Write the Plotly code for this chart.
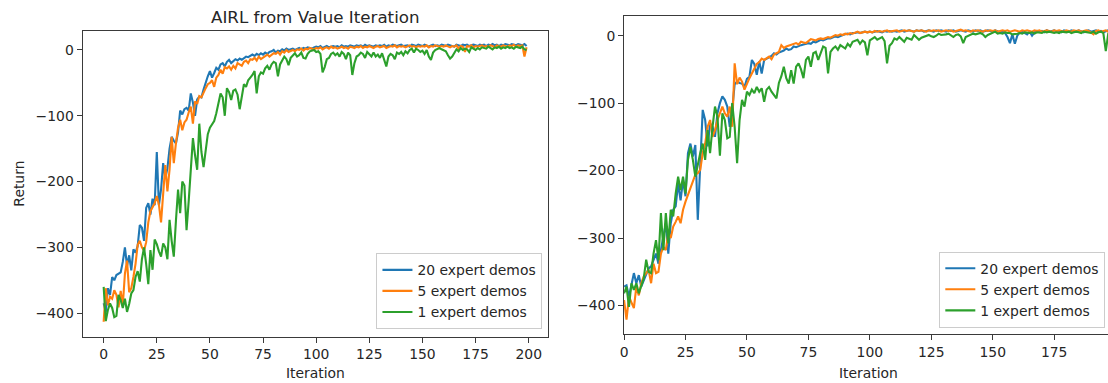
import plotly.graph_objects as go

W, H = 1108, 383

iterations = list(range(200))

# ---- Left panel: AIRL from Value Iteration ----
left_20 = [
    -385, -398, -362, -372, -345, -350, -342, -340, -338, -322,
    -300, -328, -312, -335, -303, -308, -298, -266, -270, -290,
    -240, -233, -250, -226, -236, -155, -236, -212, -172, -195,
    -180, -150, -132, -138, -142, -125, -92, -98, -90, -88,
    -92, -66, -80, -100, -75, -71, -72, -60, -48, -40,
    -32, -42, -35, -27, -30, -22, -20, -25, -18, -15,
    -20, -17, -14, -16, -13, -15, -12, -10, -11, -9,
    -7, -9, -6, -8, -5, -7, -4, -6, -3, -2,
    0, -4, -1, -2, 1, -1, 2, 0, 1, 2,
    0, 2, 3, 1, 3, 2, 4, 3, 2, 4,
    5, 4, 6, 3, 5, 6, 4, 5, 6, 5,
    6, 4, 7, 5, 6, 5, 7, 6, 5, 7,
    6, 7, 5, 8, 6, 7, 6, 5, 7, 6,
    7, 6, 8, 5, 7, 6, 8, 7, 6, 7,
    8, 6, 7, 7, 5, 8, 7, 6, 8, 7,
    6, 8, 7, 5, 7, 8, 6, 7, 6, 8,
    7, 6, 8, 7, 6, 5, 8, 7, 6, 8,
    7, 8, 6, 7, 8, 7, 6, 8, 7, 8,
    6, 8, 7, 9, 7, 8, 6, 8, 7, 9,
    8, 7, 9, 8, 7, 9, 8, 7, 9, 6,
]
left_5 = [
    -413, -362, -388, -375, -378, -365, -372, -391, -366, -388,
    -340, -320, -368, -362, -345, -325, -296, -290, -300, -305,
    -292, -262, -245, -238, -233, -222, -235, -262, -213, -175,
    -215, -182, -132, -172, -142, -118, -106, -122, -110, -106,
    -95, -86, -112, -78, -82, -70, -72, -64, -58, -52,
    -50, -46, -56, -42, -38, -30, -36, -26, -28, -25,
    -30, -24, -28, -20, -22, -24, -18, -16, -20, -14,
    -15, -12, -16, -10, -14, -12, -9, -7, -10, -8,
    -5, -6, -3, -7, -2, -4, 0, -3, -1, 0,
    -2, 1, 0, 2, -1, 2, 1, 3, 2, 1,
    3, 2, 4, 1, 3, 4, 2, 5, 3, 4,
    2, 4, 5, 3, 4, 2, 5, 4, 3, 5,
    4, 6, 3, 5, 4, 6, 5, 3, 5, 6,
    4, 5, 6, 3, 5, 6, 5, 7, 4, 6,
    5, 6, 4, 6, 7, 5, 6, 4, 6, 5,
    6, 5, 7, 4, 6, 5, 7, 6, 5, 6,
    5, 7, 6, 4, 6, 5, 7, 2, 6, 5,
    -3, 6, 5, 7, 4, 6, 5, 6, 7, 5,
    6, 5, 7, 6, 4, 7, 6, 5, 7, 6,
    5, 7, 6, 8, 5, 7, 6, 7, -10, 4,
]
left_1 = [
    -360, -412, -395, -385, -392, -406, -404, -372, -380, -392,
    -378, -398, -386, -370, -365, -345, -336, -352, -318, -300,
    -325, -356, -304, -334, -288, -295, -306, -314, -294, -300,
    -318, -258, -290, -314, -260, -212, -248, -200, -206, -274,
    -230, -180, -134, -160, -182, -112, -155, -178, -150, -128,
    -118, -112, -108, -96, -78, -66, -72, -100, -58, -64,
    -76, -62, -60, -68, -90, -70, -52, -56, -46, -42,
    -38, -32, -66, -40, -34, -36, -28, -24, -30, -22,
    -18, -20, -40, -22, -15, -10, -14, -23, -12, -8,
    -5, -10, -8, -4, -12, -13, -6, -2, -1, 0,
    -3, -2, -6, -34, -26, -14, -12, -6, -4, -8,
    -5, -10, -3, -6, -14, -4, -8, -38, -20, -10,
    -8, -4, -6, -12, -3, -6, -10, -4, -10, -7,
    -12, -5, -14, -25, -10, -6, -8, -14, -4, -6,
    -3, -8, -2, -5, 0, 2, -4, 2, 0, -3,
    -1, -6, 0, -10, -15, -4, 0, 2, 3, 1,
    0, -2, -8, -13, -10, -4, 1, -2, 3, 0,
    2, 1, -3, 4, 2, 0, 3, 1, 4, 3,
    2, 5, 3, 1, 4, 3, 5, 2, 4, 3,
    5, 3, 4, 2, 5, 4, 3, 5, 1, 0,
]

# ---- Right panel ----
right_20 = [
    -372, -370, -387, -367, -352, -367, -355, -372, -362, -352,
    -345, -342, -333, -323, -338, -318, -298, -278, -323, -278,
    -258, -253, -219, -244, -214, -238, -174, -160, -179, -162,
    -273, -199, -110, -125, -164, -130, -135, -150, -115, -100,
    -90, -95, -105, -135, -110, -72, -68, -70, -71, -76,
    -64, -61, -36, -42, -58, -38, -56, -36, -34, -32,
    -30, -26, -28, -25, -24, -22, -19, -21, -20, -16,
    -17, -15, -14, -13, -12, -11, -12, -9, -10, -8,
    -6, -7, -5, -4, -4, -2, -1, -2, 0, 1,
    2, 3, 2, 4, 4, 5, 4, 5, 6, 5,
    6, 5, 6, 7, 6, 5, 7, 6, 7, 6,
    7, 6, 7, 8, 6, 7, 8, 7, 6, 8,
    7, 8, 6, 7, 8, 7, 6, 8, 7, 8,
    7, 6, 8, 7, 8, 6, 7, 8, 7, 6,
    8, 7, 6, 8, 7, 8, 6, 7, 8, 7,
    6, 8, 7, 5, 6, 4, -2, -11, 2, -12,
    0, 5, 6, 4, 2, 6, 0, 5, 7, 6,
    7, 5, 8, 6, 7, 8, 6, 7, 5, 8,
    7, 6, 8, 7, 6, 8, 7, 5, 7, 8,
    6, 7, 8, 6, 7, 5, 7, 8, 6, 7,
]
right_5 = [
    -392, -421, -387, -397, -404, -372, -385, -367, -357, -352,
    -347, -367, -338, -352, -350, -323, -313, -318, -293, -300,
    -283, -276, -268, -278, -258, -246, -236, -226, -214, -206,
    -204, -199, -174, -160, -135, -125, -150, -140, -125, -115,
    -105, -115, -120, -105, -135, -41, -72, -62, -68, -80,
    -70, -63, -56, -50, -42, -39, -34, -36, -33, -31,
    -35, -28, -26, -24, -14, -18, -16, -15, -14, -12,
    -11, -13, -9, -10, -11, -8, -5, -6, -7, -5,
    -4, -5, -3, -2, -3, -1, 1, 0, 2, 1,
    3, 2, 4, 3, 5, 6, 4, 5, 6, 5,
    6, 5, 7, 6, 7, 6, 7, 8, 6, 7,
    7, 8, 6, 7, 8, 7, 8, 7, 6, 8,
    7, 8, 7, 6, 8, 7, 8, 7, 8, 6,
    7, 8, 7, 8, 6, 7, 8, 9, 7, 8,
    7, 6, 8, 7, 8, 7, 6, 8, 7, 8,
    7, 8, 6, 7, 8, 7, 8, 6, 7, 8,
    7, 6, 8, 7, 8, 7, 6, 8, 7, 8,
    6, 7, 8, 7, 6, 8, 7, 8, 7, 6,
    8, 7, 6, 8, 7, 8, 6, 7, 8, 7,
    5, 2, 7, 8, 6, 7, 8, 6, 7, 8,
]
right_1 = [
    -382, -372, -402, -367, -377, -367, -382, -372, -360, -332,
    -350, -352, -323, -303, -333, -263, -318, -263, -308, -258,
    -268, -234, -209, -229, -209, -234, -184, -165, -184, -209,
    -189, -174, -160, -184, -140, -174, -135, -105, -120, -178,
    -115, -125, -152, -150, -100, -135, -189, -125, -95, -105,
    -83, -88, -80, -85, -76, -83, -78, -98, -80, -76,
    -83, -88, -93, -70, -60, -46, -63, -71, -51, -71,
    -46, -41, -50, -63, -36, -31, -46, -26, -24, -36,
    -26, -16, -18, -56, -24, -19, -16, -21, -14, -16,
    -19, -12, -16, -9, -7, -6, -12, -7, -10, -29,
    -7, -5, -2, -6, -4, -2, -8, -41, -15, -11,
    -4, -6, -2, -5, -9, -3, -4, -6, 1, -2,
    -6, -3, -2, 0, 1, -1, -2, 0, 3, 1,
    1, 2, 3, 0, -2, 1, 2, -1, -11, -2,
    0, 1, 3, 2, 3, 4, 2, -2, 1, 3,
    4, 6, 3, 4, 3, 5, 4, 4, 2, 2,
    3, 4, 3, 5, 4, 4, 5, 3, 5, 5,
    4, 6, 5, 6, 5, 4, 5, 4, 6, 5,
    5, 6, 4, 5, 6, 5, 4, 6, 5, 5,
    4, 6, 3, 5, 6, 4, -23, 3, 5, 4,
]

series_names = ["20 expert demos", "5 expert demos", "1 expert demos"]
series_colors = ["#1f77b4", "#ff7f0e", "#2ca02c"]

left_xticks = [0, 25, 50, 75, 100, 125, 150, 175, 200]
right_xticks = [0, 25, 50, 75, 100, 125, 150, 175]
y_ticks = [-400, -300, -200, -100, 0]
y_ticktext = ["\u2212400", "\u2212300", "\u2212200", "\u2212100", "0"]

title_text = "AIRL from Value Iteration"
xlabel_text = "Iteration"
ylabel_text = "Return"

FONT = "DejaVu Sans"
TXT = "#262626"
AX = "#3a3a3a"
FS = 13.9

fig = go.Figure()

for name, col, ys in zip(series_names, series_colors, [left_20, left_5, left_1]):
    fig.add_trace(go.Scatter(x=iterations, y=ys, mode="lines", name=name,
                             line=dict(color=col, width=2.1),
                             xaxis="x", yaxis="y", legend="legend"))
for name, col, ys in zip(series_names, series_colors, [right_20, right_5, right_1]):
    fig.add_trace(go.Scatter(x=iterations, y=ys, mode="lines", name=name,
                             line=dict(color=col, width=2.1),
                             xaxis="x2", yaxis="y2", legend="legend2"))

def px_x(p):
    return p / W

def px_y(p):
    return 1 - p / H

axis_common = dict(showgrid=False, zeroline=False, showline=True, linecolor=AX,
                   linewidth=1, ticks="outside", ticklen=5, tickwidth=1,
                   tickcolor=AX, tickfont=dict(family=FONT, size=FS, color=TXT))

fig.update_layout(
    width=W, height=H,
    margin=dict(l=0, r=0, t=0, b=0),
    paper_bgcolor="white", plot_bgcolor="white",
    font=dict(family=FONT, size=FS, color=TXT),
    xaxis=dict(domain=[px_x(78.8), px_x(545.7)], range=[-9.95, 208.95],
               tickvals=left_xticks, mirror=True, anchor="y", **axis_common),
    yaxis=dict(domain=[px_y(336.7), px_y(30.7)], range=[-435.7, 29.3],
               tickvals=y_ticks, ticktext=y_ticktext, mirror=True, anchor="x",
               **axis_common),
    xaxis2=dict(domain=[px_x(622.3), 1.0], range=[0, 196.9],
                tickvals=right_xticks, mirror=True, anchor="y2", **axis_common),
    yaxis2=dict(domain=[px_y(334.3), px_y(16)], range=[-442.7, 29.2],
                tickvals=y_ticks, ticktext=y_ticktext, mirror=False, anchor="x2",
                **axis_common),
    legend=dict(x=px_x(540.4), y=px_y(329.3), xanchor="right", yanchor="bottom",
                bgcolor="rgba(255,255,255,0.8)", bordercolor="#cccccc", borderwidth=1,
                font=dict(family=FONT, size=FS, color=TXT)),
    legend2=dict(x=px_x(1105.3), y=px_y(327.7), xanchor="right", yanchor="bottom",
                 bgcolor="rgba(255,255,255,0.8)", bordercolor="#cccccc", borderwidth=1,
                 font=dict(family=FONT, size=FS, color=TXT)),
    showlegend=True,
)

fig.add_annotation(text=title_text, xref="paper", yref="paper",
                   x=px_x(312.2), y=px_y(17), xanchor="center", yanchor="middle",
                   showarrow=False, font=dict(family=FONT, size=16.7, color=TXT))
fig.add_annotation(text=ylabel_text, xref="paper", yref="paper",
                   x=px_x(15), y=px_y(183.7), xanchor="center", yanchor="middle",
                   textangle=-90, showarrow=False,
                   font=dict(family=FONT, size=FS, color=TXT))
fig.add_annotation(text=xlabel_text, xref="paper", yref="paper",
                   x=px_x(312.2), y=px_y(373), xanchor="center", yanchor="middle",
                   showarrow=False, font=dict(family=FONT, size=FS, color=TXT))
fig.add_annotation(text=xlabel_text, xref="paper", yref="paper",
                   x=px_x(867.7), y=px_y(372.5), xanchor="center", yanchor="middle",
                   showarrow=False, font=dict(family=FONT, size=FS, color=TXT))

fig.write_html("out.html",
               config={"displayModeBar": False},
               post_script="document.body.style.margin='0';document.body.style.overflow='hidden';")
